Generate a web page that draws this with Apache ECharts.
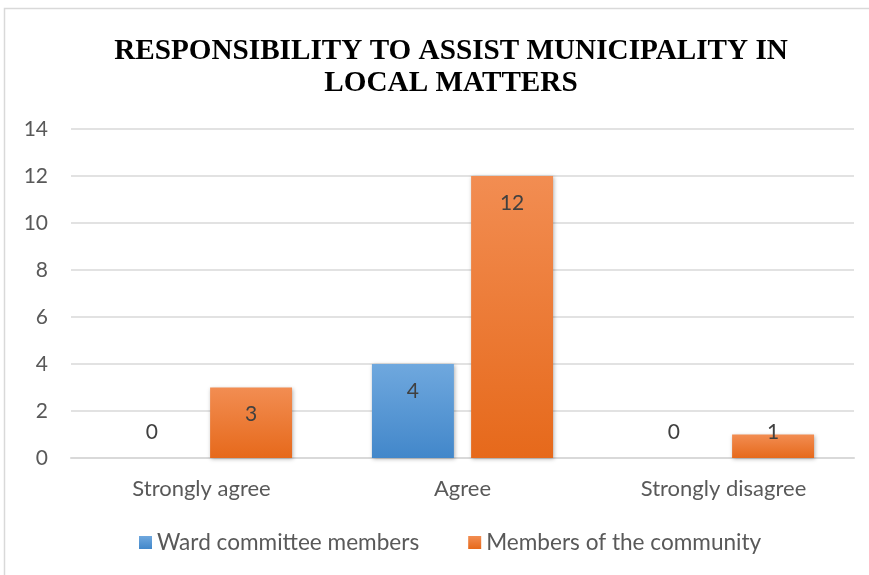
<!DOCTYPE html>
<html><head><meta charset="utf-8">
<script src="https://cdn.jsdelivr.net/npm/echarts@6/dist/echarts.min.js"></script>
<style>html,body{margin:0;padding:0;background:#fff}#c{width:869px;height:575px}</style>
</head><body><div id="c"></div>
<script>
const categories = ['Strongly agree', 'Agree', 'Strongly disagree'];
const wardValues = [0, 4, 0];
const communityValues = [3, 12, 1];
const seriesNames = ['Ward committee members', 'Members of the community'];
const yTicks = [0, 2, 4, 6, 8, 10, 12, 14];

const gridTop = 129, gridBottom = 575 - 458;
const yMax = 14;
const pxPerUnit = (575 - gridTop - gridBottom) / yMax;

function mkData(vals) {
  return vals.map(v => {
    const h = v * pxPerUnit;
    const y = h >= 53 ? 27 : h - 26;
    return { value: v, label: { position: ['50%', y] } };
  });
}
const FONT = 'Lato';
const lab = { show: true, color: '#404040', fontSize: 21, fontFamily: FONT, align: 'center', verticalAlign: 'middle' };
const chart = echarts.init(document.getElementById('c'));
chart.setOption({
  backgroundColor: '#fff',
  animation: false,
  graphic: [{ type: 'rect', shape: { x: 4.5, y: 8.5, width: 880, height: 600 }, style: { fill: 'none', stroke: '#d9d9d9', lineWidth: 1.5 } }],
  title: {
    text: 'RESPONSIBILITY TO ASSIST MUNICIPALITY IN\nLOCAL MATTERS',
    left: 446, top: 30, textAlign: 'center',
    textStyle: { fontFamily: 'Liberation Serif', fontWeight: 'bold', fontSize: 29.2, lineHeight: 32, color: '#000' }
  },
  legend: {
    top: 526, left: 134, itemGap: 49, itemWidth: 13, itemHeight: 13, icon: 'rect',
    textStyle: { fontFamily: FONT, fontSize: 22.6, color: '#595959' },
    data: seriesNames
  },
  grid: { left: 71, right: 15, top: gridTop, bottom: gridBottom },
  xAxis: {
    type: 'category', data: categories,
    axisLine: { lineStyle: { color: '#d9d9d9', width: 2 } }, axisTick: { show: false },
    axisLabel: { fontFamily: FONT, fontSize: 22, color: '#595959', margin: 20 }
  },
  yAxis: {
    type: 'value', min: yTicks[0], max: yTicks[yTicks.length - 1], interval: 2,
    axisLine: { show: false }, axisTick: { show: false },
    splitLine: { lineStyle: { color: '#d9d9d9', width: 1.5 } },
    axisLabel: { fontFamily: FONT, fontSize: 21, color: '#595959', margin: 23 }
  },
  series: [
    { name: seriesNames[0], type: 'bar', data: mkData(wardValues), barWidth: '31.4%', barGap: '21%', label: lab,
      itemStyle: { color: new echarts.graphic.LinearGradient(0, 0, 0, 1, [{ offset: 0, color: '#6fa8de' }, { offset: 1, color: '#4287ca' }]), shadowColor: 'rgba(0,0,0,0.3)', shadowBlur: 4, shadowOffsetX: 1, shadowOffsetY: 1 } },
    { name: seriesNames[1], type: 'bar', data: mkData(communityValues), barWidth: '31.4%', label: lab,
      itemStyle: { color: new echarts.graphic.LinearGradient(0, 0, 0, 1, [{ offset: 0, color: '#f28d52' }, { offset: 1, color: '#e6691b' }]), shadowColor: 'rgba(0,0,0,0.3)', shadowBlur: 4, shadowOffsetX: 1, shadowOffsetY: 1 } }
  ]
});
</script></body></html>
